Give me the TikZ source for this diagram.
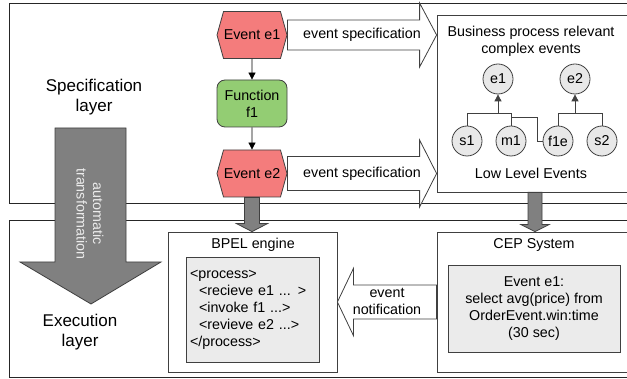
\documentclass[tikz,border=0pt]{standalone}
\usepackage{fontspec}
\setmainfont{Liberation Sans}
\usetikzlibrary{calc,arrows.meta,positioning,shapes.symbols}
\definecolor{evRed}{RGB}{244,124,124}
\definecolor{fnGreen}{RGB}{147,205,115}
\definecolor{boxGray}{RGB}{235,235,235}
\definecolor{circGray}{RGB}{232,232,232}
\definecolor{arrGray}{RGB}{128,128,128}
\definecolor{edgeDark}{RGB}{64,64,64}

\tikzset{
  txt/.style={font=\fontsize{14.3}{17}\selectfont, align=center, inner sep=0pt},
  bigtxt/.style={font=\fontsize{17}{20}\selectfont, align=center, inner sep=0pt},
  event/.style={txt, signal, signal to=west and east, signal pointer angle=149,
    fill=evRed, draw=edgeDark, line width=0.8pt, minimum width=70, minimum height=47},
  func/.style={txt, rectangle, rounded corners=8, fill=fnGreen, draw=edgeDark,
    line width=0.8pt, minimum width=70, minimum height=47},
  ev/.style={txt, circle, fill=circGray, draw=edgeDark, line width=0.8pt, minimum size=30},
  frame/.style={rectangle, draw=edgeDark, line width=0.8pt, fill=white},
  code/.style={rectangle, draw=edgeDark, line width=0.8pt, fill=boxGray},
  layer/.style={draw=black!85, line width=0.8pt},
  blockarrow/.style={draw=edgeDark, line width=0.8pt, fill=white},
  grayarrow/.style={draw=edgeDark, line width=0.8pt, fill=arrGray},
  arr/.style={-{Triangle[length=7pt,width=7pt]}, line width=0.8pt},
  tree/.style={line width=0.8pt, draw=edgeDark},
}

% horizontal block arrow: from, to, shaft half, head half, head length
\newcommand{\hblock}[6][blockarrow]{%
  \draw[#1] let \p1=(#2), \p2=(#3) in
    (\x1,\y1+#4) -- (\x2-#6,\y1+#4) -- (\x2-#6,\y1+#5) -- (\x2,\y1)
    -- (\x2-#6,\y1-#5) -- (\x2-#6,\y1-#4) -- (\x1,\y1-#4) -- cycle;}
% vertical (downward) block arrow
\newcommand{\vblock}[6][grayarrow]{%
  \draw[#1] let \p1=(#2), \p2=(#3) in
    (\x1-#4,\y1) -- (\x1+#4,\y1) -- (\x1+#4,\y2+#6) -- (\x1+#5,\y2+#6) -- (\x1,\y2)
    -- (\x1-#5,\y2+#6) -- (\x1-#4,\y2+#6) -- cycle;}

\begin{document}
\begin{tikzpicture}[x=1pt,y=-1pt]
\clip (0,0) rectangle (627,379);

% =========================
% layers
% =========================
\draw[layer] (9,3) rectangle (660,203);
\draw[layer] (9,220) rectangle (660,377);

\node[bigtxt] (specTxt) at (94,97) {Specification\\layer};
\node[bigtxt] (execTxt) at (80,332) {Execution\\layer};

% automatic transformation
\draw[grayarrow] (55,128) -- (126,128) -- (126,262) -- (161,262) -- (91,304)
  -- (20,262) -- (55,262) -- cycle;
\node[txt, rotate=-90, text=black!8, font=\fontsize{14.3}{16.5}\selectfont]
  (autoTxt) at (90,214) {automatic\\transformation};

% =========================
% process model
% =========================
\node[event] (e1) at (252,35) {Event e1};
\node[func] (f1) at (252,103.5) {Function\\f1};
\node[event] (e2) at (252,173.5) {Event e2};

\draw[arr] (e1) -- (f1);
\draw[arr] (f1) -- (e2);

% =========================
% event hierarchy
% =========================
\node[frame, minimum width=196, minimum height=177] (biz) at (535,103.5) {};
\node[txt] (bizTxt) at (531,41.5) {Business process relevant\\complex events};
\node[txt] (lowTxt) at (531,173) {Low Level Events};

\node[ev] (ce1) at (498,79) {e1};
\node[ev] (ce2) at (575,79) {e2};
\node[ev] (cs1) at (467,141) {s1};
\node[ev] (cm1) at (511,141) {m1};
\node[ev] (cf1e) at (558,141) {f1e};
\node[ev] (cs2) at (602,141) {s2};

\coordinate (j1) at ($(ce1.south)+(0,19)$);
\coordinate (j2) at ($(ce2.south)+(0,19)$);
\draw[tree] (cs1.north) |- (cm1.north |- j1) -- (cm1.north);
\draw[tree] (cf1e.west) -- ++(-5,0) |- ($(cm1.north)+(0,-8)$);
\draw[tree] (cf1e.north) |- (cs2.north |- j2) -- (cs2.north);
\draw[tree, arr] (j1) -- (ce1.south);
\draw[tree, arr] (j2) -- (ce2.south);

% event specification arrows
\hblock{e1.east}{biz.west |- e1.east}{15pt}{32pt}{17pt}
\hblock{e2.east}{biz.west |- e2.east}{17pt}{33.5pt}{17pt}
\node[txt] (spec1) at (362,35) {event specification};
\node[txt] (spec2) at (362,174) {event specification};

% =========================
% execution
% =========================
\node[frame, minimum width=169, minimum height=140] (bpel) at (252.5,302) {};
\node[txt] (bpelTxt) at (253,245) {BPEL engine};
\node[code, minimum width=133, minimum height=105, txt, align=left,
  text width=125] (bpelCode) at (252.5,309.5)
  {<process>\\\hspace*{9pt}<recieve e1 ... >\\\hspace*{9pt}<invoke f1 ...>\\
   \hspace*{9pt}<revieve e2 ...>\\</process>};

\node[frame, minimum width=196, minimum height=140] (cep) at (535,302) {};
\node[txt] (cepTxt) at (534,245) {CEP System};
\node[code, minimum width=172, minimum height=87, txt] (cepCode) at (534,308.5)
  {Event e1:\\select avg(price) from\\OrderEvent.win:time\\(30 sec)};

% transformation into the engines
\vblock{e2.south}{bpel.north}{7.5pt}{15.5pt}{8pt}
\vblock{biz.south}{cep.north}{7pt}{14pt}{7pt}

% event notification
\hblock{cep.west}{bpel.east}{17pt}{33.5pt}{-16pt}
\node[txt] (notifTxt) at (387,301.5) {event\\notification};

\end{tikzpicture}
\end{document}
